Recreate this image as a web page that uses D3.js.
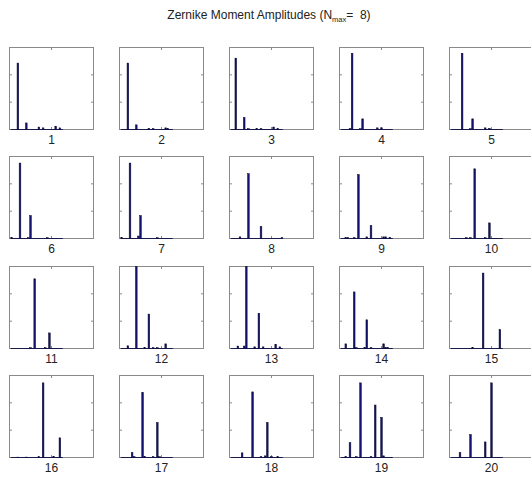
<!DOCTYPE html>
<html>
<head>
<meta charset="utf-8">
<script src="https://cdn.jsdelivr.net/npm/d3@7"></script>
<style>
  body { margin: 0; background: #fff; }
  text { font-family: "Liberation Sans", Arial, sans-serif; fill: #222; }
</style>
</head>
<body>
<svg id="svg"></svg>
<script>
const width = 531;
const height = 479;

// one label per panel, 25 moment amplitudes (n <= 8) per panel
const panelLabels = d3.range(1, 21).map(String);
const momentIndex = d3.range(1, 26);
const xTicks = [20];
const yTicks = [1, 2];

const amp1  = [0,0,0,2.43,0,0,0,0.24,0,0,0,0,0,0.09,0,0.06,0,0,0,0,0,0.12,0,0.06,0];
const amp2  = [0,0,0,2.43,0,0,0,0.17,0,0,0,0,0,0.045,0,0.03,0,0,0,0,0,0.06,0.036,0,0];
const amp3  = [0,0,2.61,0,0,0,0.44,0,0.03,0,0,0,0.03,0,0.03,0,0,0,0,0,0.09,0,0.03,0,0];
const amp4  = [0,0,0,0,0.03,2.79,0,0,0,0.03,0.39,0,0,0,0,0,0,0.06,0,0.06,0,0,0,0,0];
const amp5  = [0,0,0,0,0,2.79,0,0,0,0.03,0.39,0,0,0,0,0,0.06,0,0.045,0,0,0,0,0,0];
const amp6  = [0.03,0,0,0,2.76,0,0,0,0.03,0.84,0,0,0,0,0,0,0,0.03,0,0,0,0,0,0,0];
const amp7  = [0.03,0,0,0,2.76,0,0,0,0.09,0.84,0,0,0,0,0,0,0,0.03,0,0,0,0,0,0,0];
const amp8  = [0,0,0,0,0.06,0,0,0,2.37,0,0,0,0,0,0.44,0,0,0,0,0,0,0,0,0,0.03];
const amp9  = [0,0,0.03,0.03,0,0,0.03,0,2.34,0,0,0,0.06,0,0.47,0,0,0,0,0,0.06,0.06,0,0.045,0];
const amp10 = [0,0,0,0,0,0,0,0.03,0,0.03,0,2.55,0,0,0,0,0.03,0,0.57,0,0,0,0,0,0];
const amp11 = [0,0,0,0,0,0,0,0,0,0.03,0,2.55,0,0,0,0,0.03,0,0.57,0,0,0,0,0,0];
const amp12 = [0,0,0,0.1,0,0,0,3.0,0,0,0,0.03,0,1.26,0,0.03,0,0.03,0,0,0,0.17,0,0,0];
const amp13 = [0,0,0,0.09,0,0,0.09,3.0,0,0,0,0.06,0,1.29,0,0.06,0,0,0,0,0,0.15,0,0.06,0];
const amp14 = [0,0,0.17,0,0,0,2.07,0.03,0,0,0,0.03,1.05,0,0.03,0,0,0,0,0,0.17,0.03,0.03,0,0];
const amp15 = [0,0,0,0,0,0,0,0,0,0,0.03,0,0,0,0,2.76,0,0,0,0,0,0,0,0.69,0];
const amp16 = [0,0,0,0.015,0,0,0,0.015,0,0,0,0,0,0.03,0,2.73,0,0,0,0,0.03,0,0,0.72,0];
const amp17 = [0,0,0,0,0,0.18,0.03,0,0,0,2.37,0.03,0,0,0,0.03,0,1.28,0.03,0,0,0,0,0,0];
const amp18 = [0,0,0,0,0,0.17,0,0,0,0,2.4,0,0,0,0.03,0,0.06,1.28,0,0.03,0,0,0.03,0,0];
const amp19 = [0,0,0.03,0,0.54,0,0,0.03,0,2.73,0,0,0,0,0.03,0,1.92,0,0,1.47,0.06,0,0,0,0];
const amp20 = [0,0,0,0,0.18,0,0,0,0,0.84,0,0,0,0,0,0,0.57,0,0,2.73,0,0,0,0,0];

const amplitudes = [amp1, amp2, amp3, amp4, amp5, amp6, amp7, amp8, amp9, amp10,
                    amp11, amp12, amp13, amp14, amp15, amp16, amp17, amp18, amp19, amp20];

let svg = d3.select("#svg").attr("width", width).attr("height", height);

const pw = 84, ph = 82;
const colScale = d3.scaleLinear().domain([0, 4]).range([9, 449]);
const rowScale = d3.scaleLinear().domain([0, 3]).range([47, 375]);
const xScale = d3.scaleLinear().domain([0, 40]).range([0, pw]);
const yScale = d3.scaleLinear().domain([0, 3]).range([ph, 0]).clamp(true);
const barW = xScale(0.8) - xScale(0);

// title with subscript
const title = svg.append("text")
    .attr("x", 269)
    .attr("y", 19)
    .attr("text-anchor", "middle")
    .attr("font-size", "12px");
title.append("tspan").text("Zernike Moment Amplitudes (N");
title.append("tspan").attr("font-size", "7.5px").attr("dy", 3).text("max");
title.append("tspan").attr("dy", -3).text("=\u00a0 8)");

function drawPanel(values, label, i) {
    const col = i % 5, row = Math.floor(i / 5);
    const g = svg.append("g")
        .attr("transform", `translate(${Math.round(colScale(col)) + 0.5},${Math.round(rowScale(row)) + 0.5})`);

    g.append("rect")
        .attr("width", pw).attr("height", ph)
        .attr("fill", "#fff")
        .attr("stroke", "#8a8a8a")
        .attr("stroke-width", 1);

    // inward ticks (MATLAB style)
    const tl = 2.5;
    xTicks.forEach(t => {
        g.append("line").attr("x1", xScale(t)).attr("x2", xScale(t)).attr("y1", 0).attr("y2", tl).attr("stroke", "#8a8a8a");
        g.append("line").attr("x1", xScale(t)).attr("x2", xScale(t)).attr("y1", ph).attr("y2", ph - tl).attr("stroke", "#8a8a8a");
    });
    yTicks.forEach(t => {
        g.append("line").attr("x1", 0).attr("x2", tl).attr("y1", yScale(t)).attr("y2", yScale(t)).attr("stroke", "#8a8a8a");
        g.append("line").attr("x1", pw).attr("x2", pw - tl).attr("y1", yScale(t)).attr("y2", yScale(t)).attr("stroke", "#8a8a8a");
    });

    // zero-height bars show up as a dark baseline
    g.append("line")
        .attr("x1", xScale(momentIndex[0]) - barW / 2)
        .attr("x2", xScale(momentIndex[momentIndex.length - 1]) + barW / 2)
        .attr("y1", yScale(0)).attr("y2", yScale(0))
        .attr("stroke", "#1a1a4a").attr("stroke-width", 1);

    g.selectAll("rect.bar")
        .data(values)
        .join("rect")
        .attr("class", "bar")
        .attr("x", (d, k) => xScale(momentIndex[k]) - barW / 2)
        .attr("y", d => yScale(d))
        .attr("width", barW)
        .attr("height", d => yScale(0) - yScale(d))
        .attr("fill", "#121270")
        .attr("stroke", "#0a0a30")
        .attr("stroke-width", 0.5);

    g.append("text")
        .attr("x", pw / 2)
        .attr("y", ph + 14)
        .attr("text-anchor", "middle")
        .attr("font-size", "12px")
        .text(label);
}

amplitudes.forEach((values, i) => drawPanel(values, panelLabels[i], i));
</script>
</body>
</html>
